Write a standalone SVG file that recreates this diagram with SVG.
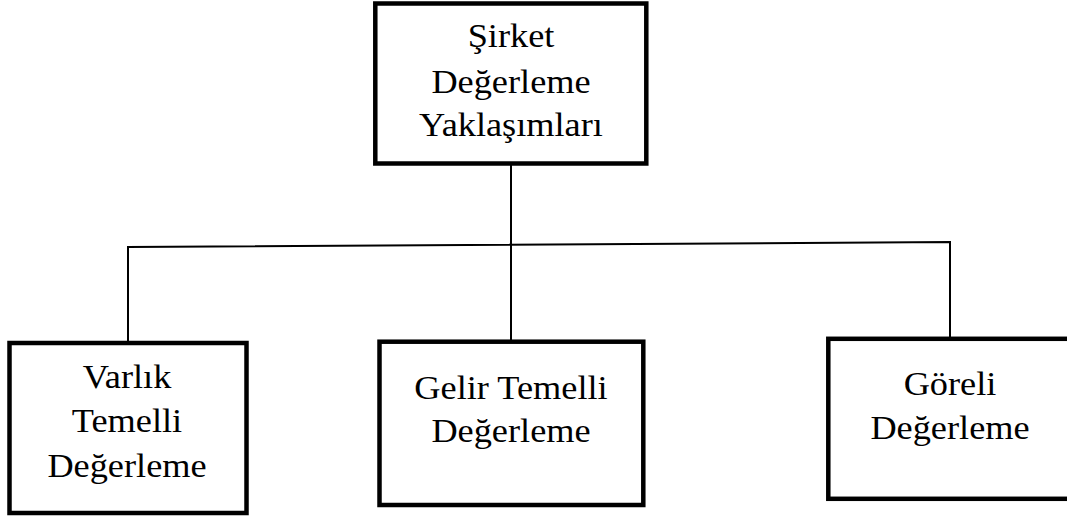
<svg xmlns="http://www.w3.org/2000/svg" width="1067" height="517" viewBox="0 0 1067 517">
<style>
.box{fill:#fff;stroke:#000;stroke-width:4.5}
.lbl{font-family:"Liberation Serif","Times New Roman",serif;font-size:33px;fill:#000;text-anchor:middle}
.con{fill:none;stroke:#000;stroke-width:2}
</style>
<rect width="1067" height="517" fill="#fff"/>
<g id="connectors">
<line class="con" x1="511" y1="164" x2="511" y2="341"/>
<polyline class="con" points="128,342 128,247 950,242 950,338"/>
</g>
<g id="root">
<rect class="box" x="375.3" y="3.5" width="271" height="160"/>
<g transform="matrix(1.1 0 0 1 -51.1 0)">
<text class="lbl" x="511" y="47">Şirket</text>
<text class="lbl" x="511" y="93">Değerleme</text>
<text class="lbl" x="511" y="136">Yaklaşımları</text>
</g>
</g>
<g id="varlik">
<rect class="box" x="9.5" y="343" width="237" height="170"/>
<g transform="matrix(1.1 0 0 1 -12.7 0)">
<text class="lbl" x="127" y="388">Varlık</text>
<text class="lbl" x="127" y="432">Temelli</text>
<text class="lbl" x="127" y="477">Değerleme</text>
</g>
</g>
<g id="gelir">
<rect class="box" x="379.5" y="341.7" width="263.8" height="163.3"/>
<g transform="matrix(1.1 0 0 1 -51.1 0)">
<text class="lbl" x="511" y="399">Gelir Temelli</text>
<text class="lbl" x="511" y="442">Değerleme</text>
</g>
</g>
<g id="goreli">
<rect class="box" x="828.3" y="338.8" width="250" height="160"/>
<g transform="matrix(1.1 0 0 1 -95 0)">
<text class="lbl" x="950" y="395">Göreli</text>
<text class="lbl" x="950" y="439">Değerleme</text>
</g>
</g>
</svg>
